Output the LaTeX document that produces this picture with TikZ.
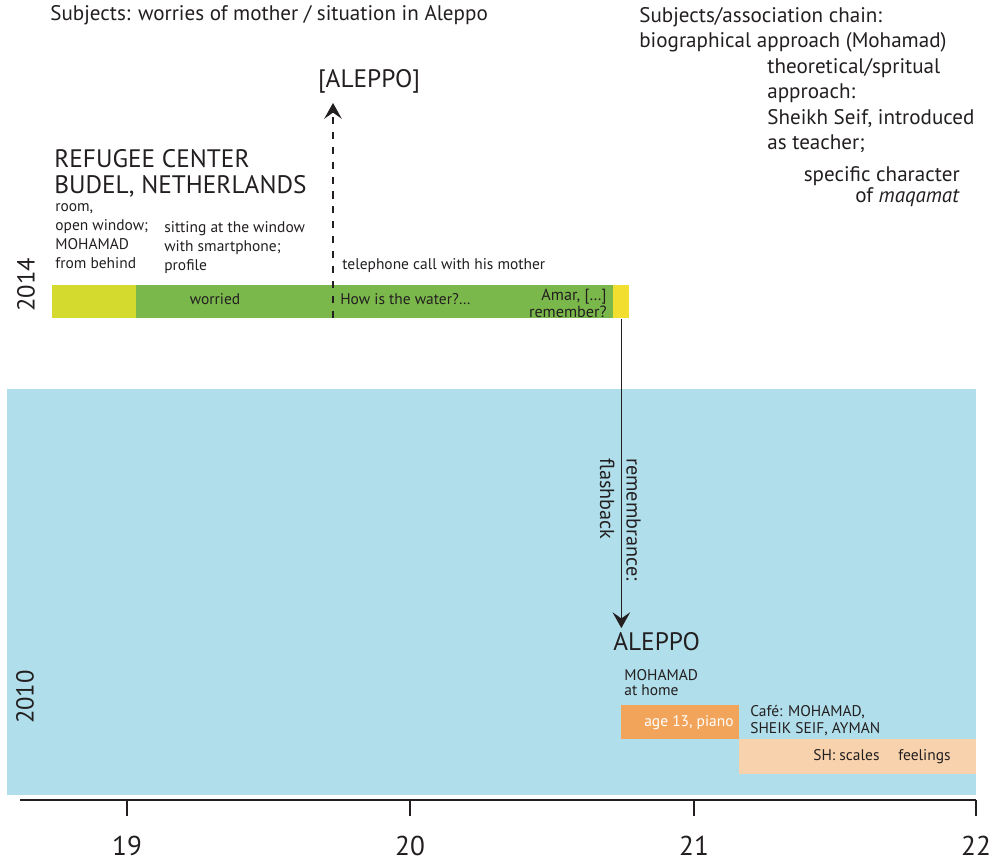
\documentclass[tikz,border=0pt]{standalone}
\usepackage{fontspec}
\setmainfont{PT Sans}
\usetikzlibrary{arrows.meta}
\usetikzlibrary{positioning}

\definecolor{ink}{HTML}{231F20}
\definecolor{limebar}{HTML}{D4DB2E}
\definecolor{greenbar}{HTML}{7BB84B}
\definecolor{yellowbar}{HTML}{F2DE2F}
\definecolor{pastbg}{HTML}{B0DEEA}
\definecolor{orangebar}{HTML}{F2A55A}
\definecolor{peachbar}{HTML}{F8D2AC}

\tikzset{
  bar/.style={anchor=north west, inner sep=0pt, minimum height=0.66cm},
  note/.style={inner sep=0pt, align=left, text=ink, font=\fontsize{8.8}{10.8}\selectfont},
  topic/.style={inner sep=0pt, align=left, text=ink, font=\fontsize{12}{14.5}\selectfont},
  place/.style={inner sep=0pt, align=left, text=ink, font=\fontsize{14.4}{14.7}\selectfont},
  yearlabel/.style={inner sep=0pt, text=ink, font=\fontsize{15.5}{17}\selectfont},
  jump/.style={draw=ink, line width=0.75pt, -{Stealth[length=9pt,width=10pt,inset=3.5pt]}}
}

\begin{document}
\begin{tikzpicture}[x=0.02cm,y=-0.02cm]
  \useasboundingbox (0,0) rectangle (996,864);

  % 2010 layer
  \node[bar, fill=pastbg, minimum width=19.38cm, minimum height=8.12cm] (past) at (7,389) {};

  % time axis
  \draw[ink, line width=1.6pt] (20,800) -- (976,800);
  \foreach \x/\yr in {127/19, 410/20, 694/21, 976/22} {
    \draw[ink, line width=0.8pt] (\x,800) -- (\x,816);
    \node[yearlabel, anchor=base] (yr\yr) at (\x,855) {\yr};
  }
  \node[yearlabel, rotate=90, font=\fontsize{14}{16}\selectfont] (y2014) at (26,285) {2014};
  \node[yearlabel, rotate=90, font=\fontsize{14}{16}\selectfont] (y2010) at (25,697) {2010};

  % subjects
  \node[topic, anchor=base west] (worries) at (50,21) {Subjects: worries of mother / situation in Aleppo};
  \node[topic, anchor=north west] (chain) at (639,7) {Subjects/association chain:\\biographical approach (Mohamad)};
  \node[topic, anchor=north west] (spirit) at (767,58) {theoretical/spritual\\approach:\\Sheikh Seif, introduced\\as teacher;};
  \node[topic, anchor=north east, align=right, font=\fontsize{12}{10.8}\selectfont] (maqam) at (960,166) {specific character\\of \textit{maqamat}};

  % 2014 scene
  \node[place, anchor=north west] (budel) at (54,149) {REFUGEE CENTER\\BUDEL, NETHERLANDS};
  \node[note, anchor=north west] (room) at (55,203) {room,\\open window;\\MOHAMAD\\from behind};
  \node[note, anchor=north west] (window) at (164,221) {sitting at the window\\with smartphone;\\profile};
  \node[note, anchor=base west] (phone) at (342,270) {telephone call with his mother};

  \node[bar, fill=limebar, minimum width=1.68cm] (open) at (52,285) {};
  \node[bar, fill=greenbar, minimum width=9.54cm] (call) at (136,285) {};
  \node[bar, fill=yellowbar, minimum width=0.32cm] (amar) at (613,285) {};
  \node[note, anchor=base] (worried) at (215,305) {worried};
  \node[note, anchor=base west] (water) at (340,305) {How is the water?…};
  \node[note, anchor=north east, align=right, font=\fontsize{9.2}{7.6}\selectfont] (remember) at (607,289) {Amar, […]\\remember?};

  % imagined place
  \node[place, anchor=base] (elsewhere) at (369,88) {[ALEPPO]};
  \coordinate (dashfoot) at (333,318);
  \draw[jump, dash pattern=on 4pt off 4.5pt] (dashfoot) -- ([yshift=-5pt]dashfoot |- elsewhere.south);

  % 2010 scene
  \node[place, anchor=base west] (aleppo) at (613,650) {ALEPPO};
  \draw[jump] (amar.south) -- ([yshift=2pt]amar.south |- aleppo.north);
  \node[note, anchor=north west, rotate=-90, font=\fontsize{11.5}{15}\selectfont] (flash) at (641,458) {remembrance:\\flashback};

  \node[note, anchor=north west, font=\fontsize{8.8}{8.6}\selectfont] (home) at (624,669) {MOHAMAD\\at home};
  \node[bar, fill=orangebar, minimum width=2.36cm, minimum height=0.68cm] (piano) at (621,705) {};
  \node[note, anchor=base east, text=white] (age) at (734,726) {age 13, piano};
  \node[note, anchor=north west, font=\fontsize{8.8}{9.6}\selectfont] (cafe) at (750,705) {Café: MOHAMAD,\\SHEIK SEIF, AYMAN};
  \node[bar, fill=peachbar, minimum width=4.74cm, minimum height=0.7cm] (scales) at (739,739) {};
  \node[note, anchor=base west] (sh) at (813,760) {SH: scales};
  \node[note, anchor=base west] (feel) at (898,760) {feelings};
\end{tikzpicture}
\end{document}
